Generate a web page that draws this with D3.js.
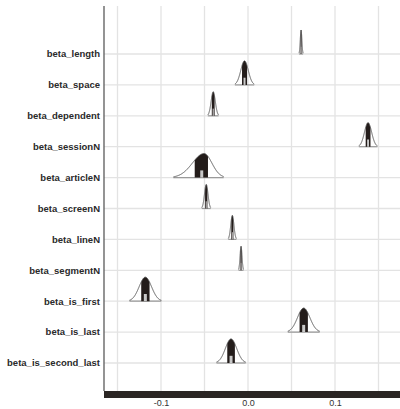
<!DOCTYPE html>
<html>
<head>
<meta charset="utf-8">
<script src="https://cdn.jsdelivr.net/npm/d3@7"></script>
<style>
  html, body { margin: 0; padding: 0; background: #fff; }
  svg { display: block; }
</style>
</head>
<body>
<svg id="chart" width="400" height="409"></svg>
<script>
// Posterior summaries per coefficient: mode, left spread, right spread
const params = [
  "beta_length", "beta_space", "beta_dependent", "beta_sessionN",
  "beta_articleN", "beta_screenN", "beta_lineN", "beta_segmentN",
  "beta_is_first", "beta_is_last", "beta_is_second_last"
];
const modes   = [0.061, -0.004, -0.040, 0.138, -0.0505, -0.048, -0.018, -0.008, -0.118, 0.064, -0.0195];
const sdLeft  = [0.0009, 0.0043, 0.0024, 0.0041, 0.0134, 0.0020, 0.0018, 0.0011, 0.0071, 0.0071, 0.0065];
const sdRight = [0.0009, 0.0043, 0.0024, 0.0041, 0.0090, 0.0020, 0.0018, 0.0011, 0.0071, 0.0071, 0.0065];
const tickValues = [-0.1, 0.0, 0.1];
const gridValues = [-0.15, -0.1, -0.05, 0, 0.05, 0.1, 0.15];

const svg = d3.select("#chart");
const plotLeft = 104, plotRight = 400, plotTop = 6, plotBottom = 391;

const x = d3.scaleLinear().domain([-0.16552, 0.17471]).range([plotLeft, plotRight]);
const y = d3.scalePoint().domain(params).range([54, 363]);
const peak = 24;

// grid
svg.append("g").selectAll("line").data(gridValues).join("line")
  .attr("x1", d => x(d)).attr("x2", d => x(d))
  .attr("y1", plotTop).attr("y2", plotBottom)
  .attr("stroke", "#e3e3e3").attr("stroke-width", 1.3);
svg.append("g").selectAll("line").data(params).join("line")
  .attr("x1", plotLeft).attr("x2", plotRight)
  .attr("y1", d => y(d)).attr("y2", d => y(d))
  .attr("stroke", "#e3e3e3").attr("stroke-width", 1.3);

// densities
const rows = params.map((p, i) => {
  const m = modes[i], sl = sdLeft[i], sr = sdRight[i];
  const lo = m - 4 * sl, hi = m + 4 * sr, n = 600;
  const pts = d3.range(n + 1).map(k => {
    const t = lo + (hi - lo) * k / n;
    const s = t < m ? sl : sr;
    return { t, f: Math.exp(-0.5 * ((t - m) / s) ** 2) };
  });
  let acc = 0;
  pts.forEach((d, k) => {
    if (k > 0) acc += (d.f + pts[k - 1].f) / 2;
    d.c = acc;
  });
  pts.forEach(d => d.c /= acc);
  const q = pr => pts.find(d => d.c >= pr).t;
  return { p, pts, q005: q(0.005), q995: q(0.995), q25: q(0.25), q75: q(0.75), q50: q(0.5) };
});

const g = svg.append("g");
rows.forEach(r => {
  const base = y(r.p);
  const area = d3.area().x(d => x(d.t)).y0(base).y1(d => base - d.f * peak);
  const line = d3.line().x(d => x(d.t)).y(d => base - d.f * peak);
  const outer = r.pts.filter(d => d.t >= r.q005 && d.t <= r.q995);
  const inner = r.pts.filter(d => d.t >= r.q25 && d.t <= r.q75);

  g.append("line")
    .attr("x1", x(r.q005)).attr("x2", x(r.q995))
    .attr("y1", base).attr("y2", base)
    .attr("stroke", "#9a9a9a").attr("stroke-width", 1.2);
  g.append("path").attr("d", area(inner)).attr("fill", "#231c1a");
  g.append("path").attr("d", line(outer))
    .attr("fill", "none").attr("stroke", "#4a4a4a").attr("stroke-width", 0.9);

  const fw = x(r.q75) - x(r.q25);
  const w = Math.min(3, fw * 0.4);
  g.append("rect")
    .attr("x", x(r.q50) - w / 2).attr("width", w)
    .attr("y", base - peak * 0.3).attr("height", peak * 0.3)
    .attr("fill", "#c8c8c8");
});

// y axis line
svg.append("line")
  .attr("x1", plotLeft).attr("x2", plotLeft).attr("y1", plotTop).attr("y2", plotBottom)
  .attr("stroke", "#5a5a5a").attr("stroke-width", 1.3);

// row labels
svg.append("g").selectAll("text").data(params).join("text")
  .attr("x", 100).attr("y", d => y(d)).attr("dy", "0.35em")
  .attr("text-anchor", "end")
  .attr("font-family", "Liberation Sans, Arial, sans-serif")
  .attr("font-size", 9.5).attr("font-weight", "bold")
  .attr("fill", "#2a2a2a")
  .text(d => d);

// bottom axis: thick bar with value labels
svg.append("rect").attr("x", plotLeft).attr("y", plotBottom).attr("width", plotRight - plotLeft).attr("height", 7)
  .attr("fill", "#2b2624");
const ax = svg.append("g").attr("transform", `translate(0,${plotBottom + 7})`)
  .call(d3.axisBottom(x).tickValues(tickValues).tickSize(0).tickPadding(2)
    .tickFormat(d => d3.format(".1f")(d).replace("−", "-")));
ax.select(".domain").remove();
ax.selectAll("text")
  .attr("font-family", "Liberation Sans, Arial, sans-serif")
  .attr("font-size", 9).attr("fill", "#333");
</script>
</body>
</html>
